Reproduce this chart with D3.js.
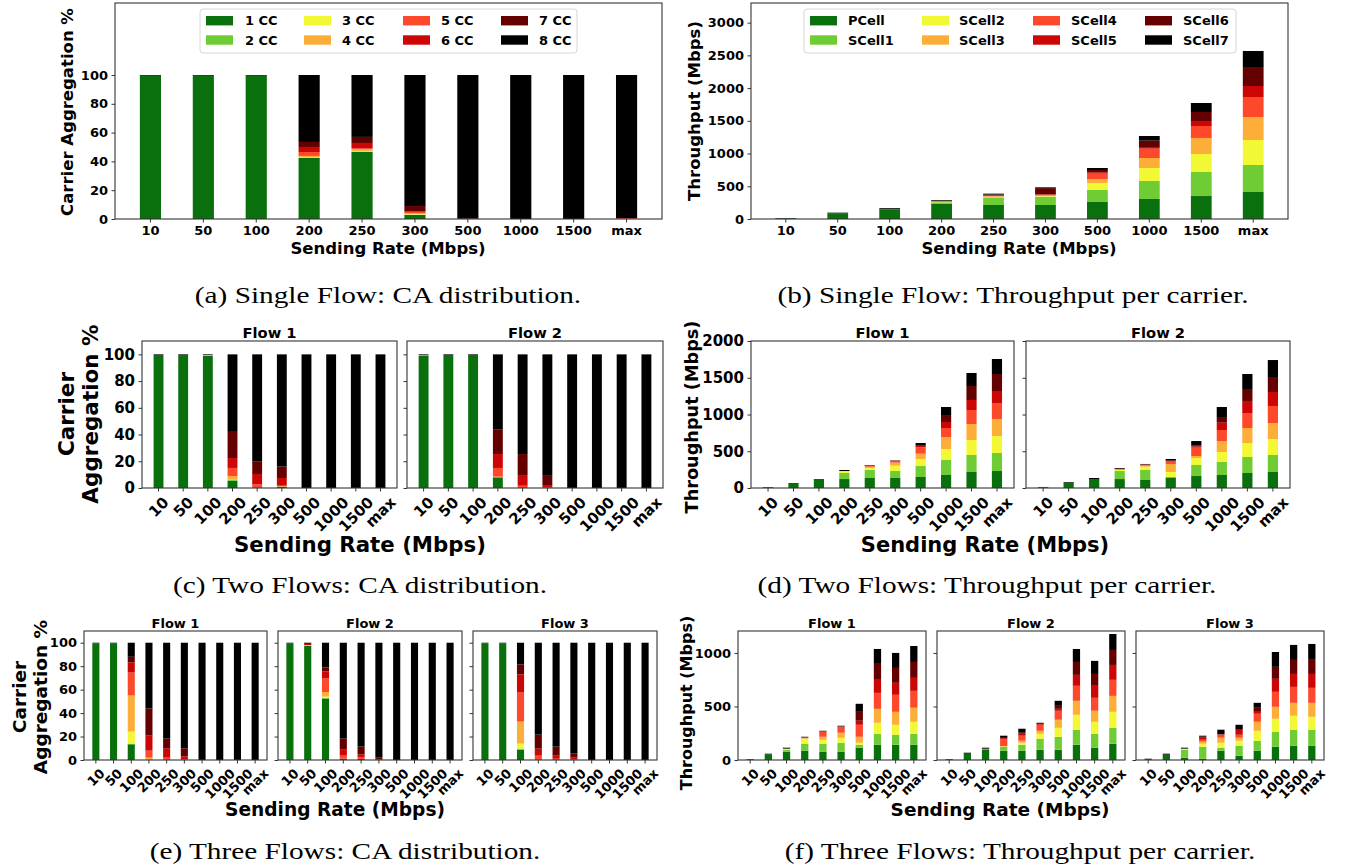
<!DOCTYPE html>
<html>
<head>
<meta charset="utf-8">
<script src="https://cdn.jsdelivr.net/npm/d3@7"></script>
<style>
  body { margin: 0; background: #fff; }
  svg text { font-family: "DejaVu Sans", sans-serif; font-weight: bold; fill: #000; }
  svg text.cap { font-family: "Liberation Serif", serif; font-weight: normal; }
</style>
</head>
<body>
<svg id="fig" width="1347" height="867"></svg>
<script>
// categories and legend names
var rates = ["10", "50", "100", "200", "250", "300", "500", "1000", "1500", "max"];
var ccNames = ["1 CC", "2 CC", "3 CC", "4 CC", "5 CC", "6 CC", "7 CC", "8 CC"];
var cellNames = ["PCell", "SCell1", "SCell2", "SCell3", "SCell4", "SCell5", "SCell6", "SCell7"];
var colors = ["#0a700e", "#6fcc34", "#f2f934", "#fdae38", "#fe482c", "#cc0605", "#640000", "#000000"];

var caTicks = [0, 20, 40, 60, 80, 100];
var tputTicks1 = [0, 500, 1000, 1500, 2000, 2500, 3000];
var tputTicks2 = [0, 500, 1000, 1500, 2000];
var tputTicks3 = [0, 500, 1000];

// each row = one sending rate, 8 stacked segments (1..8 CC or PCell..SCell7)
var caSingle = [
  [99.5, 0, 0, 0, 0, 0, 0, 0.5],
  [99.5, 0, 0, 0, 0, 0, 0, 0.5],
  [99.5, 0, 0, 0, 0, 0, 0, 0.5],
  [42.4, 0, 0.3, 1.1, 2.7, 3.5, 3.5, 46.5],
  [46.8, 0, 0.5, 1.3, 0.5, 3.7, 4.2, 43],
  [2.8, 0.2, 0.4, 0.5, 1.0, 0.5, 3.6, 91],
  [0, 0, 0, 0, 0, 0, 0.5, 99.5],
  [0, 0, 0, 0, 0, 0, 0, 100],
  [0, 0, 0, 0, 0, 0, 0, 100],
  [0, 0, 0, 0, 0.4, 0.3, 0, 99.3]
];
var tputSingle = [
  [10, 0, 0, 0, 0, 0, 0, 5],
  [82, 0, 0, 0, 0, 0, 3, 12],
  [145, 0, 0, 0, 0, 0, 5, 15],
  [230, 25, 5, 5, 5, 5, 5, 10],
  [214, 117, 8, 8, 6, 10, 10, 14],
  [214, 127, 8, 10, 10, 8, 95, 12],
  [260, 183, 107, 61, 82, 20, 36, 30],
  [306, 275, 198, 153, 143, 25, 97, 71],
  [351, 367, 275, 245, 183, 76, 138, 137],
  [413, 412, 382, 351, 306, 168, 290, 245]
];
var caTwo1 = [
  [99.5, 0, 0, 0, 0, 0, 0, 0.5],
  [99.5, 0, 0, 0, 0, 0, 0, 0.5],
  [98.8, 0, 0, 0.7, 0, 0, 0, 0.5],
  [5.5, 0.7, 0, 2.8, 6, 7.4, 19.6, 58],
  [0.5, 0, 0, 0, 2.2, 7.8, 9.2, 80.3],
  [1, 0, 0, 0.4, 0.3, 5.8, 8.5, 84],
  [0, 0, 0, 0, 0, 0, 0, 100],
  [0, 0, 0, 0, 0, 0, 0, 100],
  [0, 0, 0, 0, 0, 0, 0, 100],
  [0, 0, 0, 0, 0, 0, 0, 100]
];
var caTwo2 = [
  [98.8, 0.7, 0, 0, 0, 0, 0, 0.5],
  [99.5, 0, 0, 0, 0, 0, 0, 0.5],
  [99.5, 0, 0, 0, 0, 0, 0, 0.5],
  [8, 0, 0, 0.5, 6.5, 10.4, 18.6, 56],
  [0, 0, 0, 0, 1.7, 8, 15.7, 74.6],
  [0, 0, 0, 0, 0.7, 1.5, 7.5, 90.3],
  [0, 0, 0, 0, 0, 0, 0, 100],
  [0, 0, 0, 0, 0, 0, 0, 100],
  [0, 0, 0, 0, 0, 0, 0, 100],
  [0, 0, 0, 0, 0, 0, 0, 100]
];
var tputTwo1 = [
  [8, 0, 0, 0, 0, 0, 0, 5],
  [59, 0, 0, 0, 0, 0, 0, 9],
  [113, 0, 0, 0, 0, 0, 0, 9],
  [122, 82, 27, 0, 0, 0, 0, 14],
  [136, 109, 27, 18, 9, 5, 4, 5],
  [136, 95, 73, 41, 22, 3, 3, 3],
  [150, 149, 96, 72, 86, 18, 5, 36],
  [177, 204, 150, 163, 122, 82, 95, 109],
  [218, 231, 204, 218, 190, 136, 191, 177],
  [231, 245, 231, 232, 217, 164, 231, 204]
];
var tputTwo2 = [
  [9, 0, 0, 0, 0, 0, 0, 5],
  [73, 0, 0, 0, 0, 0, 0, 9],
  [122, 0, 0, 0, 0, 0, 0, 14],
  [122, 109, 18, 5, 0, 3, 5, 10],
  [109, 136, 45, 14, 9, 5, 4, 5],
  [136, 14, 68, 109, 40, 5, 0, 23],
  [163, 150, 95, 27, 114, 18, 9, 63],
  [177, 181, 132, 149, 150, 100, 77, 136],
  [204, 218, 190, 204, 204, 164, 163, 204],
  [218, 231, 218, 217, 232, 190, 204, 231]
];
var caThree1 = [
  [99.5, 0, 0, 0, 0, 0, 0, 0.5],
  [99.5, 0, 0, 0, 0, 0, 0, 0.5],
  [13.4, 0.6, 10.2, 30.8, 19.6, 8.6, 4.8, 12],
  [0, 0, 0, 2, 6, 12.8, 23.1, 56.1],
  [0, 0, 0, 0, 2, 7.7, 8.5, 81.8],
  [0, 0, 0, 0, 0.5, 2.6, 6.9, 90],
  [0, 0, 0, 0, 0, 0, 0, 100],
  [0, 0, 0, 0, 0, 0, 0, 100],
  [0, 0, 0, 0, 0, 0, 0, 100],
  [0, 0, 0, 0, 0, 0, 0, 100]
];
var caThree2 = [
  [99.5, 0, 0, 0, 0, 0, 0, 0.5],
  [97.2, 0, 0.3, 0.5, 0, 1.1, 0, 0.9],
  [52.4, 0.5, 1.1, 4, 11.5, 6, 3.5, 21],
  [1.1, 0, 0, 0, 2.6, 5.1, 9.4, 81.8],
  [0.9, 0, 0, 0, 1.7, 2.2, 6.6, 88.6],
  [0, 0, 0, 0, 0, 0.5, 1.5, 98],
  [0, 0, 0, 0, 0, 0, 0, 100],
  [0, 0, 0, 0, 0, 0, 0, 100],
  [0, 0, 0, 0, 0, 0, 0, 100],
  [0, 0, 0, 0, 0, 0, 0, 100]
];
var caThree3 = [
  [99.5, 0, 0, 0, 0, 0, 0, 0.5],
  [99.5, 0, 0, 0, 0, 0, 0, 0.5],
  [8.8, 0.9, 4.3, 18.8, 24.7, 15.5, 8.5, 18.5],
  [0, 0, 0, 0, 3.7, 6, 11.9, 78.4],
  [0, 0, 0, 0, 1.1, 2.6, 7.7, 88.6],
  [0, 0, 0, 0, 0.5, 1.5, 3.4, 94.6],
  [0, 0, 0, 0, 0, 0, 0, 100],
  [0, 0, 0, 0, 0, 0, 0, 100],
  [0, 0, 0, 0, 0, 0, 0, 100],
  [0, 0, 0, 0, 0, 0, 0, 100]
];
var tputThree1 = [
  [6, 0, 0, 0, 0, 0, 0, 3],
  [53, 0, 0, 0, 0, 0, 0, 6],
  [78, 18, 10, 0, 0, 0, 0, 9],
  [87, 65, 47, 6, 3, 3, 0, 6],
  [78, 74, 37, 28, 47, 3, 0, 6],
  [78, 83, 47, 47, 56, 3, 0, 6],
  [115, 28, 18, 56, 112, 38, 83, 75],
  [143, 102, 103, 130, 149, 122, 149, 139],
  [143, 93, 93, 121, 159, 112, 139, 140],
  [143, 102, 112, 131, 158, 121, 149, 149]
];
var tputThree2 = [
  [6, 0, 0, 0, 0, 0, 0, 3],
  [59, 0, 0, 0, 0, 0, 0, 9],
  [96, 0, 0, 0, 8, 2, 0, 9],
  [87, 37, 3, 3, 65, 9, 3, 20],
  [87, 56, 18, 19, 47, 18, 10, 37],
  [96, 103, 46, 28, 56, 7, 3, 9],
  [96, 121, 84, 75, 84, 18, 28, 47],
  [143, 140, 139, 131, 140, 102, 121, 121],
  [115, 130, 112, 103, 121, 112, 111, 122],
  [152, 149, 149, 149, 150, 139, 140, 149]
];
var tputThree3 = [
  [8, 0, 0, 0, 0, 0, 0, 4],
  [50, 0, 0, 0, 0, 0, 0, 9],
  [22, 74, 10, 0, 0, 0, 0, 9],
  [12, 112, 28, 19, 18, 19, 10, 9],
  [87, 28, 46, 47, 28, 3, 3, 41],
  [40, 94, 46, 28, 28, 47, 0, 46],
  [87, 93, 93, 84, 75, 18, 38, 46],
  [124, 140, 121, 112, 140, 121, 112, 139],
  [134, 149, 130, 121, 149, 121, 131, 140],
  [134, 149, 121, 130, 140, 130, 140, 140]
];

var svg = d3.select("#fig");

// one matplotlib-like axes with stacked bars
function drawAxes(o) {
  var g = svg.append("g");
  var x = d3.scaleBand().domain(rates).range([o.x0, o.x1])
    .paddingInner(0.6).paddingOuter(0.47);
  var y = d3.scaleLinear().domain([0, o.ymax]).range([o.y1, o.y0]);

  var layers = d3.stack().keys(d3.range(8))(o.data);
  g.selectAll("g.layer").data(layers).enter().append("g")
    .attr("class", "layer")
    .attr("fill", function(d, i) { return colors[i]; })
    .selectAll("rect").data(function(d) { return d; }).enter().append("rect")
      .attr("x", function(d, i) { return x(rates[i]); })
      .attr("width", x.bandwidth())
      .attr("y", function(d) { return y(d[1]); })
      .attr("height", function(d) { return y(d[0]) - y(d[1]); });

  // y axis
  var ya = g.append("g").attr("transform", `translate(${o.x0},0)`)
    .call(d3.axisLeft(y).tickValues(o.yticks).tickSize(3.5).tickPadding(3.5)
      .tickFormat(o.yLabels ? d3.format("d") : function() { return ""; }));
  ya.select(".domain").remove();
  ya.selectAll("line").attr("stroke", "#333");
  ya.selectAll("text").style("font-size", o.fs + "px");

  // x axis
  var xa = g.append("g").attr("transform", `translate(0,${o.y1})`)
    .call(d3.axisBottom(x).tickSize(3.5).tickPadding(3.5));
  xa.select(".domain").remove();
  xa.selectAll("line").attr("stroke", "#333");
  xa.selectAll("text").style("font-size", o.fs + "px");
  if (o.rot) {
    xa.selectAll("text").each(function() {
      var w = this.getComputedTextLength();
      var off = 7.5 + (w + o.fs * 0.75) / (2 * Math.SQRT2);
      d3.select(this).attr("y", 0).attr("dy", "0.36em").attr("text-anchor", "middle")
        .attr("transform", `translate(0,${off}) rotate(-45)`);
    });
  }

  // frame
  g.append("rect")
    .attr("x", o.x0).attr("y", o.y0)
    .attr("width", o.x1 - o.x0).attr("height", o.y1 - o.y0)
    .attr("fill", "none").attr("stroke", "#333").attr("stroke-width", 1.1);

  if (o.title) {
    g.append("text")
      .attr("x", (o.x0 + o.x1) / 2).attr("y", o.y0 - 3.5)
      .attr("text-anchor", "middle")
      .style("font-size", o.tfs + "px")
      .text(o.title);
  }
}

function yLabel(lines, xs, cy, fs) {
  lines.forEach(function(s, i) {
    svg.append("text")
      .attr("transform", `translate(${xs[i]},${cy}) rotate(-90)`)
      .attr("text-anchor", "middle")
      .style("font-size", fs + "px")
      .text(s);
  });
}

function xLabel(s, cx, y, fs) {
  svg.append("text").attr("x", cx).attr("y", y)
    .attr("text-anchor", "middle").style("font-size", fs + "px").text(s);
}

function legend(names, box, colX, textX) {
  var g = svg.append("g");
  g.append("rect")
    .attr("x", box[0]).attr("y", box[1])
    .attr("width", box[2] - box[0]).attr("height", box[3] - box[1])
    .attr("rx", 3).attr("fill", "#fff").attr("fill-opacity", 0.8)
    .attr("stroke", "#d6d6d6");
  var rows = [20.7, 40];
  names.forEach(function(n, i) {
    var c = Math.floor(i / 2), r = i % 2;
    g.append("rect").attr("x", colX[c]).attr("y", rows[r] - 4.7)
      .attr("width", 27).attr("height", 9.4).attr("fill", colors[i]);
    g.append("text").attr("x", textX[c]).attr("y", rows[r]).attr("dy", "0.36em")
      .style("font-size", "13px").text(n);
  });
}

// LaTeX-style caption, widened a little to mimic Computer Modern
function caption(s, cx, y) {
  var t = svg.append("text").attr("class", "cap").attr("x", cx).attr("y", y)
    .attr("text-anchor", "middle").style("font-size", "24px").text(s);
  var w = t.node().getComputedTextLength();
  t.attr("textLength", w * 1.22).attr("lengthAdjust", "spacingAndGlyphs");
}

// (a) single flow CA distribution
drawAxes({x0: 115, y0: 3, x1: 662, y1: 219, data: caSingle, ymax: 150, yticks: caTicks, yLabels: true, rot: false, fs: 13});
legend(ccNames, [200, 9, 577, 53], [206, 304, 403, 501], [245, 342, 441, 539]);
yLabel(["Carrier Aggregation %"], [73], 112, 16.5);
xLabel("Sending Rate (Mbps)", 388, 254, 16.5);
caption("(a) Single Flow: CA distribution.", 388, 303);

// (b) single flow throughput
drawAxes({x0: 751, y0: 3, x1: 1288, y1: 219, data: tputSingle, ymax: 3300, yticks: tputTicks1, yLabels: true, rot: false, fs: 13});
legend(cellNames, [804, 9, 1236, 53], [810, 922, 1033, 1145], [848, 959, 1071, 1183]);
yLabel(["Throughput (Mbps)"], [700], 111, 16.5);
xLabel("Sending Rate (Mbps)", 1019, 254, 16.5);
caption("(b) Single Flow: Throughput per carrier.", 1013, 303);

// (c) two flows CA
drawAxes({x0: 142, y0: 341, x1: 397, y1: 488, data: caTwo1, ymax: 110, yticks: caTicks, yLabels: true, rot: true, fs: 15, title: "Flow 1", tfs: 14.7});
drawAxes({x0: 407, y0: 341, x1: 663, y1: 488, data: caTwo2, ymax: 110, yticks: caTicks, yLabels: false, rot: true, fs: 15, title: "Flow 2", tfs: 14.7});
yLabel(["Carrier", "Aggregation %"], [74, 98], 414, 21.5);
xLabel("Sending Rate (Mbps)", 360, 552, 21.3);
caption("(c) Two Flows: CA distribution.", 360, 593);

// (d) two flows throughput
drawAxes({x0: 751, y0: 341, x1: 1014, y1: 488, data: tputTwo1, ymax: 2000, yticks: tputTicks2, yLabels: true, rot: true, fs: 15, title: "Flow 1", tfs: 14.7});
drawAxes({x0: 1026, y0: 341, x1: 1290, y1: 488, data: tputTwo2, ymax: 2000, yticks: tputTicks2, yLabels: false, rot: true, fs: 15, title: "Flow 2", tfs: 14.7});
yLabel(["Throughput (Mbps)"], [698], 417, 17.7);
xLabel("Sending Rate (Mbps)", 985, 552, 21);
caption("(d) Two Flows: Throughput per carrier.", 987, 593);

// (e) three flows CA
drawAxes({x0: 84, y0: 631, x1: 267, y1: 760, data: caThree1, ymax: 110, yticks: caTicks, yLabels: true, rot: true, fs: 13, title: "Flow 1", tfs: 13});
drawAxes({x0: 278, y0: 631, x1: 462, y1: 760, data: caThree2, ymax: 110, yticks: caTicks, yLabels: false, rot: true, fs: 13, title: "Flow 2", tfs: 13});
drawAxes({x0: 473, y0: 631, x1: 657, y1: 760, data: caThree3, ymax: 110, yticks: caTicks, yLabels: false, rot: true, fs: 13, title: "Flow 3", tfs: 13});
yLabel(["Carrier", "Aggregation %"], [26, 47], 697, 18.5);
xLabel("Sending Rate (Mbps)", 335, 816, 18.6);
caption("(e) Three Flows: CA distribution.", 345, 859);

// (f) three flows throughput
drawAxes({x0: 738, y0: 631, x1: 926, y1: 760, data: tputThree1, ymax: 1205, yticks: tputTicks3, yLabels: true, rot: true, fs: 13, title: "Flow 1", tfs: 13});
drawAxes({x0: 937, y0: 631, x1: 1125, y1: 760, data: tputThree2, ymax: 1205, yticks: tputTicks3, yLabels: false, rot: true, fs: 13, title: "Flow 2", tfs: 13});
drawAxes({x0: 1136, y0: 631, x1: 1324, y1: 760, data: tputThree3, ymax: 1205, yticks: tputTicks3, yLabels: false, rot: true, fs: 13, title: "Flow 3", tfs: 13});
yLabel(["Throughput (Mbps)"], [692], 703, 16);
xLabel("Sending Rate (Mbps)", 1000, 816, 18.5);
caption("(f) Three Flows: Throughput per carrier.", 1020, 859);
</script>
</body>
</html>
